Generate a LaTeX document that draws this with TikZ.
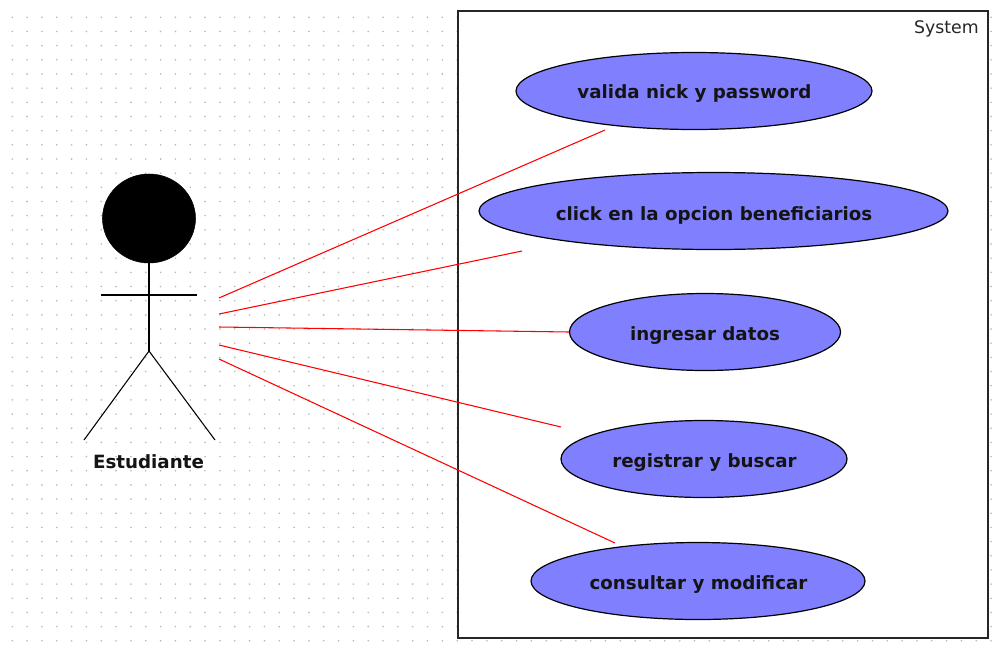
\documentclass[tikz,border=0pt]{standalone}
\usepackage{fontspec}
\setmainfont{DejaVu Sans}
\usetikzlibrary{shapes.geometric}
\definecolor{uc}{RGB}{128,128,255}
\tikzset{
  x=0.75pt,y=-0.75pt,
  usecase/.style={ellipse,draw=black,line width=0.9pt,fill=uc,inner sep=0pt},
  label/.style={inner sep=0pt,font=\fontsize{13.7}{16}\selectfont\bfseries,text=black!92},
  assoc/.style={draw=red,line width=0.8pt},
  stick/.style={draw=black,line width=0.8pt},
}
\begin{document}
\begin{tikzpicture}
\useasboundingbox (0,0) rectangle (994,653);
\fill[white] (0,0) rectangle (994,653);
\foreach \i in {0,...,66}{\foreach \j in {0,...,44}{
  \fill[black!28] ({12.3+14.83*\i},{17.3+14.17*\j}) circle (0.9);
}}
\node[draw=black!85,line width=1.2pt,fill=white,minimum width=530.5*0.75pt,minimum height=627*0.75pt,inner sep=0pt] (sys) at (723,324.5) {};
\node[anchor=north east,inner sep=0pt,font=\fontsize{13}{15}\selectfont,text=black!85] (lab) at (979,20.5) {System};
\node[usecase,minimum width=356*0.75pt,minimum height=77*0.75pt] (u1) at (694,91) {};
\node[label] (t1) at (694.5,94) {valida nick y password};
\node[usecase,minimum width=469*0.75pt,minimum height=77*0.75pt] (u2) at (713.5,211) {};
\node[label] (t2) at (714,215) {click en la opcion beneficiarios};
\node[usecase,minimum width=271*0.75pt,minimum height=77*0.75pt] (u3) at (705,332) {};
\node[label] (t3) at (705,336) {ingresar datos};
\node[usecase,minimum width=286*0.75pt,minimum height=77*0.75pt] (u4) at (704,459) {};
\node[label] (t4) at (704.5,463) {registrar y buscar};
\node[usecase,minimum width=334*0.75pt,minimum height=77*0.75pt] (u5) at (698,581) {};
\node[label] (t5) at (698.5,585) {consultar y modificar};
% actor
\node[ellipse,fill=black,draw=black,minimum width=93*0.75pt,minimum height=89*0.75pt,inner sep=0pt] (head) at (149,218.5) {};
\coordinate (armL) at (101,295);
\coordinate (armR) at (197,295);
\coordinate (hip) at (149,351);
\coordinate (footL) at (84,440);
\coordinate (footR) at (215,440);
\draw[stick] (head.south) -- (hip);
\draw[stick] (armL) -- (armR);
\draw[stick] (footL) -- (hip) -- (footR);
\node[label] (actor) at (148.5,462) {Estudiante};
% connectors
\coordinate (a1) at (219,298); \coordinate (e1) at (605,130);
\coordinate (a2) at (219,314); \coordinate (e2) at (522,251);
\coordinate (a3) at (219,327); \coordinate (e3) at (u3.west);
\coordinate (a4) at (219,345); \coordinate (e4) at (561,427);
\coordinate (a5) at (219,359); \coordinate (e5) at (615,543);
\draw[assoc] (a1) -- (e1);
\draw[assoc] (a2) -- (e2);
\draw[assoc] (a3) -- (e3);
\draw[assoc] (a4) -- (e4);
\draw[assoc] (a5) -- (e5);
\end{tikzpicture}
\end{document}
